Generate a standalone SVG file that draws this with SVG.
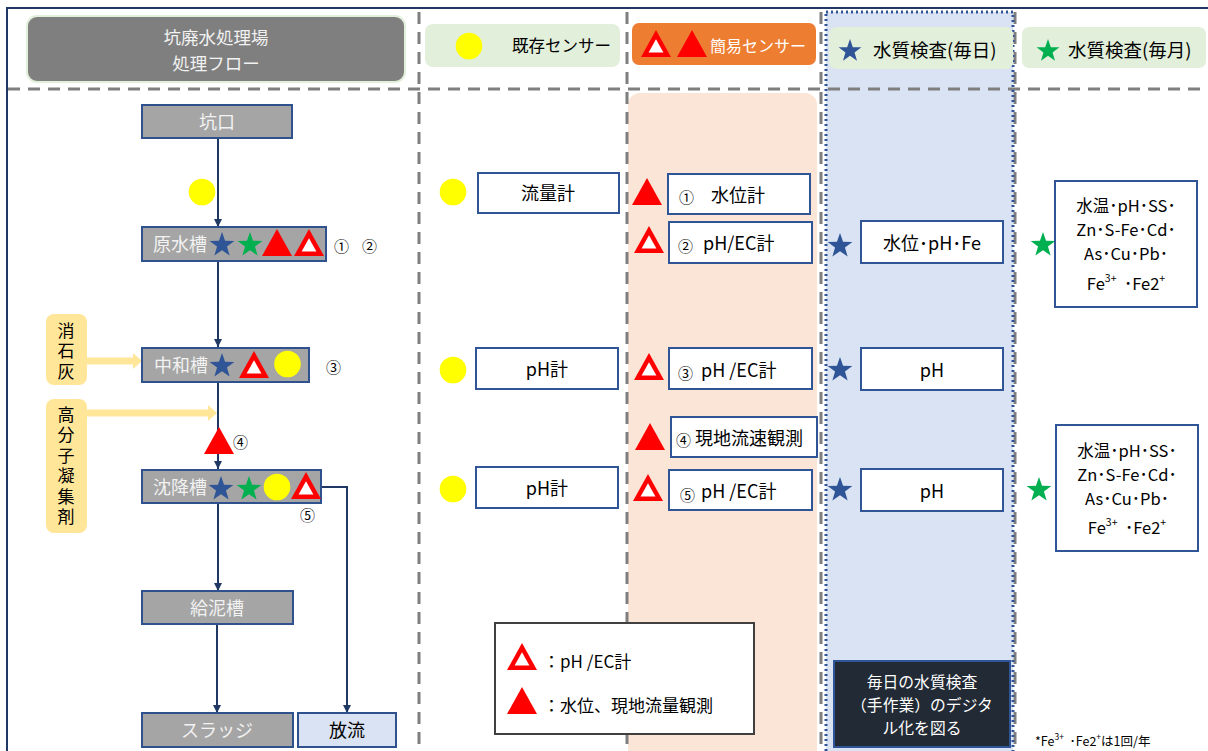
<svg xmlns="http://www.w3.org/2000/svg" xmlns:xlink="http://www.w3.org/1999/xlink" width="1208" height="751" viewBox="0 0 1208 751">
<style>
text{font-family:"Noto Sans CJK JP","Noto Sans",sans-serif;dominant-baseline:central}
.nb{fill:#a5a5a5;stroke:#2f528f;stroke-width:2}
.nt{fill:#f2f2f2;font-size:18px}
.wb{fill:#fff;stroke:#2f5597;stroke-width:2}
.bt{fill:#000;font-size:18px}
.mid{text-anchor:middle}
.cn{fill:#000;font-size:15px}
.dash{stroke:#7f7f7f;stroke-width:3;stroke-dasharray:12 8;fill:none}
.conn{stroke:#203864;stroke-width:2;fill:none}
.leg{fill:#e2efda}
.yc{fill:#ffff00}
.vt{writing-mode:vertical-rl;text-anchor:middle;font-size:17px;letter-spacing:3.5px;fill:#000}
.ml{fill:#000;font-size:16.5px;text-anchor:middle;white-space:pre}
</style>
<defs>
<marker id="ah" viewBox="0 0 10 10" refX="10" refY="5" markerWidth="8" markerHeight="8" markerUnits="userSpaceOnUse" orient="auto"><path d="M0,0 L10,5 L0,10 z" fill="#203864"/></marker>
<polygon id="tri" points="0,-14 15,13 -15,13" fill="#ff0000"/>
<g id="htri"><polygon points="0,-14 15,13 -15,13" fill="#ff0000"/><polygon points="0,-4.7 7.4,8.5 -7.4,8.5" fill="#ffffff"/></g>
<polygon id="star" points="0,-13 3.06,-4.21 12.36,-4.02 4.95,1.61 7.64,10.52 0,5.2 -7.64,10.52 -4.95,1.61 -12.36,-4.02 -3.06,-4.21"/>
</defs>

<rect width="1208" height="751" fill="#ffffff"/>

<g id="panels">
<rect x="628" y="93" width="189" height="680" rx="12" fill="#fbe5d6"/>
<rect x="826" y="12" width="187" height="760" fill="#dae3f3"/>
</g>

<g id="grid">
<line class="dash" x1="8" y1="89" x2="1208" y2="89"/>
<line class="dash" x1="419" y1="12" x2="419" y2="751"/>
<line class="dash" x1="627" y1="12" x2="627" y2="751"/>
<line class="dash" x1="821" y1="12" x2="821" y2="751"/>
<line class="dash" x1="1015" y1="12" x2="1015" y2="751"/>
<rect x="826" y="12" width="187" height="760" fill="none" stroke="#2f5597" stroke-width="3" stroke-dasharray="2 3"/>
<path d="M7,751 V8 H1208" fill="none" stroke="#1f3864" stroke-width="2"/>
</g>

<g id="header-title">
<rect x="27" y="16" width="378" height="66" rx="10" fill="#7f7f7f" stroke="#e2efda" stroke-width="2"/>
<text class="mid" fill="#f2f2f2" font-size="17.5"><tspan x="216" y="36">坑廃水処理場</tspan><tspan x="216" y="62">処理フロー</tspan></text>
</g>

<g id="header-existing">
<rect class="leg" x="425" y="24" width="195" height="43" rx="8"/>
<circle class="yc" cx="469" cy="46" r="13.3"/>
<text x="512" y="45" font-size="16.5" fill="#000">既存センサー</text>
</g>
<g id="header-simple">
<rect x="632" y="23" width="184" height="42" rx="7" fill="#ed7d31"/>
<use xlink:href="#htri" transform="translate(656,44)"/>
<use xlink:href="#tri" transform="translate(692,44)"/>
<text x="710" y="45" font-size="16" fill="#ffffff">簡易センサー</text>
</g>
<g id="header-daily">
<rect class="leg" x="829" y="27" width="184" height="42" rx="7"/>
<use xlink:href="#star" fill="#2f5597" transform="translate(850,51) scale(0.92)"/>
<text x="873" y="49" font-size="18.5" fill="#000">水質検査(毎日)</text>
</g>
<g id="header-monthly">
<rect class="leg" x="1022" y="27" width="184" height="41" rx="7"/>
<use xlink:href="#star" fill="#00b050" transform="translate(1048,51) scale(0.92)"/>
<text x="1068" y="49" font-size="18.5" fill="#000">水質検査(毎月)</text>
</g>

<g id="connectors">
<line class="conn" x1="218" y1="138" x2="218" y2="227" marker-end="url(#ah)"/>
<line class="conn" x1="218" y1="261" x2="218" y2="347" marker-end="url(#ah)"/>
<line class="conn" x1="218" y1="382" x2="218" y2="469" marker-end="url(#ah)"/>
<line class="conn" x1="218" y1="504" x2="218" y2="591" marker-end="url(#ah)"/>
<line class="conn" x1="217" y1="625" x2="217" y2="713" marker-end="url(#ah)"/>
<path class="conn" d="M321,487 H347 V713" marker-end="url(#ah)"/>
<line x1="86" y1="361" x2="134" y2="361" stroke="#ffe699" stroke-width="7"/>
<polygon points="133,353 142,361 133,369" fill="#ffe699"/>
<line x1="86" y1="413" x2="209" y2="413" stroke="#ffe699" stroke-width="7"/>
<polygon points="208,405 217,413 208,421" fill="#ffe699"/>
</g>

<g id="node-kouguchi">
<rect class="nb" x="142" y="105" width="150" height="33"/>
<text class="nt mid" x="217" y="121">坑口</text>
</g>
<g id="sensor-flow-left"><circle class="yc" cx="202" cy="192" r="13.3"/></g>
<g id="node-gensuisou">
<rect class="nb" x="142" y="227" width="184" height="34"/>
<text class="nt" x="153" y="243">原水槽</text>
<use xlink:href="#star" fill="#2f5597" transform="translate(222,245)"/>
<use xlink:href="#star" fill="#00b050" transform="translate(250,245)"/>
<use xlink:href="#tri" transform="translate(277,243)"/>
<use xlink:href="#htri" transform="translate(309,243)"/>
<text class="cn" x="334" y="245">①</text>
<text class="cn" x="362" y="245">②</text>
</g>
<g id="node-chuwasou">
<rect class="nb" x="142" y="348" width="167" height="34"/>
<text class="nt" x="154" y="364">中和槽</text>
<use xlink:href="#star" fill="#2f5597" transform="translate(222,366)"/>
<use xlink:href="#htri" transform="translate(254,365)"/>
<circle class="yc" cx="287.5" cy="364" r="13.3"/>
<text class="cn" x="326" y="366">③</text>
</g>
<g id="node-shousekkai">
<rect x="46" y="314" width="41" height="71" rx="8" fill="#ffe699"/>
<text class="vt" x="66" y="352.5">消石灰</text>
</g>
<g id="node-gyoushuzai">
<rect x="46" y="399" width="41" height="134" rx="8" fill="#ffe699"/>
<text class="vt" x="66" y="467.5">高分子凝集剤</text>
</g>
<g id="sensor-4-left">
<use xlink:href="#tri" transform="translate(219,441)"/>
<text class="cn" x="233" y="441">④</text>
</g>
<g id="node-chinkousou">
<rect class="nb" x="142" y="470" width="179" height="33"/>
<text class="nt" x="153" y="486">沈降槽</text>
<use xlink:href="#star" fill="#2f5597" transform="translate(221,489)"/>
<use xlink:href="#star" fill="#00b050" transform="translate(249,489)"/>
<circle class="yc" cx="277" cy="487" r="13.3"/>
<use xlink:href="#htri" transform="translate(306,486)"/>
<text class="cn" x="300" y="514">⑤</text>
</g>
<g id="node-kyudeisou">
<rect class="nb" x="142" y="591" width="151" height="33"/>
<text class="nt mid" x="217" y="607">給泥槽</text>
</g>
<g id="node-sludge">
<rect class="nb" x="142" y="713" width="151" height="34"/>
<text class="nt mid" x="217" y="729">スラッジ</text>
</g>
<g id="node-houryuu">
<rect x="298" y="713" width="98" height="34" fill="#dae3f3" stroke="#2f528f" stroke-width="2"/>
<text class="bt mid" x="347" y="729">放流</text>
</g>

<g id="existing-1">
<circle class="yc" cx="453" cy="192" r="13.3"/>
<rect class="wb" x="478" y="173" width="141" height="40"/>
<text class="bt mid" x="548" y="192">流量計</text>
</g>
<g id="existing-2">
<circle class="yc" cx="453" cy="370" r="13.3"/>
<rect class="wb" x="476" y="348" width="142" height="41"/>
<text class="bt mid" x="547" y="368">pH計</text>
</g>
<g id="existing-3">
<circle class="yc" cx="453" cy="489" r="13.3"/>
<rect class="wb" x="476" y="467" width="142" height="41"/>
<text class="bt mid" x="547" y="487">pH計</text>
</g>

<g id="simple-1">
<use xlink:href="#tri" transform="translate(647,192)"/>
<rect class="wb" x="668" y="174" width="142" height="40"/>
<text class="cn" x="679" y="196">①</text>
<text class="bt" x="711" y="194">水位計</text>
</g>
<g id="simple-2">
<use xlink:href="#htri" transform="translate(649,240)"/>
<rect class="wb" x="669" y="222" width="143" height="41"/>
<text class="cn" x="678" y="245">②</text>
<text class="bt" x="703" y="242">pH/EC計</text>
</g>
<g id="simple-3">
<use xlink:href="#htri" transform="translate(649,367)"/>
<rect class="wb" x="669" y="348" width="143" height="41"/>
<text class="cn" x="678" y="372">③</text>
<text class="bt" x="701" y="369">pH /EC計</text>
</g>
<g id="simple-4">
<use xlink:href="#tri" transform="translate(650,437)"/>
<rect class="wb" x="671" y="417" width="146" height="40"/>
<text class="cn" x="676" y="439">④</text>
<text class="bt" x="695" y="437">現地流速観測</text>
</g>
<g id="simple-5">
<use xlink:href="#htri" transform="translate(648,488)"/>
<rect class="wb" x="669" y="470" width="143" height="40"/>
<text class="cn" x="680" y="494">⑤</text>
<text class="bt" x="701" y="490">pH /EC計</text>
</g>

<g id="daily-1">
<use xlink:href="#star" fill="#2f5597" transform="translate(840,246)"/>
<rect class="wb" x="861" y="221" width="142" height="42"/>
<text class="bt mid" x="932" y="242">水位･pH･Fe</text>
</g>
<g id="daily-2">
<use xlink:href="#star" fill="#2f5597" transform="translate(840,370)"/>
<rect class="wb" x="861" y="348" width="142" height="42"/>
<text class="bt mid" x="932" y="369">pH</text>
</g>
<g id="daily-3">
<use xlink:href="#star" fill="#2f5597" transform="translate(840,490)"/>
<rect class="wb" x="861" y="469" width="142" height="42"/>
<text class="bt mid" x="932" y="490">pH</text>
</g>
<g id="daily-note">
<rect x="834" y="661" width="176" height="86" fill="#222a35" stroke="#2f5597" stroke-width="2"/>
<text class="mid" font-size="15.8" fill="#ffffff"><tspan x="922" y="681">毎日の水質検査</tspan><tspan x="922" y="704">（手作業）のデジタ</tspan><tspan x="922" y="727">ル化を図る</tspan></text>
</g>

<g id="monthly-1">
<use xlink:href="#star" fill="#00b050" transform="translate(1043,245)"/>
<rect class="wb" x="1055" y="181" width="142" height="126"/>
<text class="ml"><tspan x="1126" y="205">水温･pH･SS･</tspan><tspan x="1126" y="229">Zn･S-Fe･Cd･</tspan><tspan x="1126" y="253">As･Cu･Pb･</tspan><tspan x="1126" y="283">Fe<tspan font-size="10.5" dy="-6">3+</tspan><tspan dy="6">  ･Fe2</tspan><tspan font-size="10.5" dy="-6">+</tspan></tspan></text>
</g>
<g id="monthly-2">
<use xlink:href="#star" fill="#00b050" transform="translate(1039,490)"/>
<rect class="wb" x="1056" y="425" width="142" height="126"/>
<text class="ml"><tspan x="1127" y="450">水温･pH･SS･</tspan><tspan x="1127" y="474">Zn･S-Fe･Cd･</tspan><tspan x="1127" y="498">As･Cu･Pb･</tspan><tspan x="1127" y="527">Fe<tspan font-size="10.5" dy="-6">3+</tspan><tspan dy="6">  ･Fe2</tspan><tspan font-size="10.5" dy="-6">+</tspan></tspan></text>
</g>
<g id="footnote">
<text x="1035" y="740" font-size="12.5" fill="#000" style="white-space:pre">*Fe<tspan font-size="8.5" dy="-4">3+</tspan><tspan dy="4">  ･Fe2</tspan><tspan font-size="8.5" dy="-4">+</tspan><tspan dy="4">は1回/年</tspan></text>
</g>

<g id="legend">
<rect x="495" y="623" width="259" height="111" fill="#ffffff" stroke="#404040" stroke-width="2"/>
<use xlink:href="#htri" transform="translate(522,657)"/>
<text x="543" y="660" font-size="17" fill="#000">：pH /EC計</text>
<use xlink:href="#tri" transform="translate(522,701)"/>
<text x="543" y="704" font-size="17" fill="#000">：水位、現地流量観測</text>
</g>
</svg>
